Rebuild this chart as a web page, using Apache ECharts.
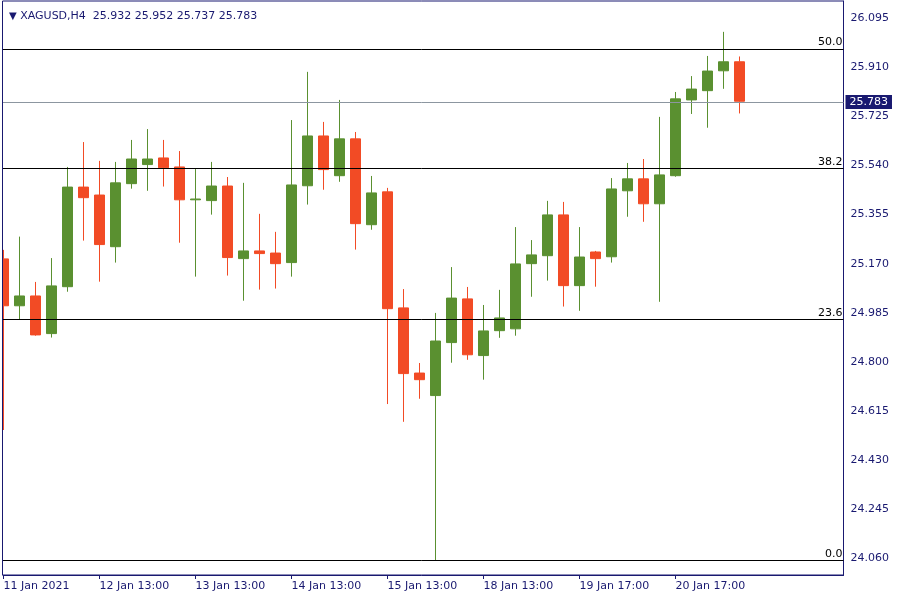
<!DOCTYPE html>
<html><head><meta charset="utf-8">
<script src="https://cdn.jsdelivr.net/npm/echarts@6/dist/echarts.min.js"></script>
<style>html,body{margin:0;padding:0;background:#fff}#c{width:900px;height:600px}</style>
</head><body><div id="c"></div>
<script>
const symbol = 'XAGUSD,H4';
const opens  = [25.188, 25.011, 25.048, 24.906, 25.083, 25.459, 25.429, 25.234, 25.472, 25.544,
                25.569, 25.535, 25.411, 25.408, 25.463, 25.189, 25.218, 25.210, 25.174, 25.464,
                25.652, 25.502, 25.641, 25.317, 25.441, 25.003, 24.757, 24.672, 24.872, 25.037,
                24.823, 24.917, 24.924, 25.170, 25.200, 25.354, 25.087, 25.214, 25.196, 25.445,
                25.490, 25.396, 25.502, 25.788, 25.823, 25.898, 25.932];
const highs  = [25.222, 25.272, 25.101, 25.191, 25.535, 25.629, 25.558, 25.554, 25.637, 25.678,
                25.637, 25.595, 25.527, 25.554, 25.497, 25.475, 25.358, 25.290, 25.712, 25.894,
                25.705, 25.788, 25.667, 25.501, 25.456, 25.074, 24.795, 24.984, 25.157, 25.082,
                25.014, 25.071, 25.308, 25.259, 25.407, 25.403, 25.308, 25.218, 25.493, 25.550,
                25.565, 25.724, 25.818, 25.878, 25.954, 26.045, 25.952];
const lows   = [24.542, 24.961, 24.898, 24.891, 25.064, 25.257, 25.102, 25.174, 25.453, 25.445,
                25.461, 25.249, 25.121, 25.355, 25.125, 25.030, 25.072, 25.076, 25.121, 25.393,
                25.449, 25.479, 25.223, 25.298, 24.640, 24.573, 24.660, 24.051, 24.796, 24.807,
                24.732, 24.890, 24.898, 25.045, 25.106, 25.008, 24.992, 25.083, 25.174, 25.347,
                25.328, 25.026, 25.498, 25.735, 25.683, 25.830, 25.737];
const closes = [25.011, 25.048, 24.901, 25.086, 25.459, 25.419, 25.242, 25.475, 25.565, 25.565,
                25.532, 25.411, 25.414, 25.463, 25.193, 25.218, 25.208, 25.170, 25.467, 25.652,
                25.525, 25.641, 25.321, 25.437, 25.000, 24.755, 24.732, 24.878, 25.040, 24.826,
                24.916, 24.965, 25.169, 25.203, 25.354, 25.087, 25.195, 25.189, 25.452, 25.490,
                25.396, 25.505, 25.792, 25.829, 25.897, 25.932, 25.783];
const xTickIndex  = [0, 6, 12, 18, 24, 30, 36, 42];
const xTickLabels = ['11 Jan 2021', '12 Jan 13:00', '13 Jan 13:00', '14 Jan 13:00',
                     '15 Jan 13:00', '18 Jan 13:00', '19 Jan 17:00', '20 Jan 17:00'];
const yTickLabels = ['24.060', '24.245', '24.430', '24.615', '24.800', '24.985',
                     '25.170', '25.355', '25.540', '25.725', '25.910', '26.095'];
const fibLevels = ['0.0', '23.6', '38.2', '50.0'];
const fibPrices = [24.051, 24.962, 25.527, 25.983];

const NAVY = '#191970', GREEN = '#5a9030', RED = '#f24b25';
const FONT = 'DejaVu Sans';
const n = opens.length;
const rightPad = 6;
const categories = [];
for (let i = 0; i < n + rightPad; i++) categories.push(String(i));
const labelAt = {};
xTickIndex.forEach((k, j) => { labelAt[k] = xTickLabels[j]; });
const candleData = opens.map((o, i) => [o, closes[i], lows[i], highs[i]]);
const last = n - 1;
const header = [opens[last], highs[last], lows[last], closes[last]].map(v => v.toFixed(3)).join(' ');

// layout (pixels)
const GRID_L = -4.5, GRID_R = 56.5, MAIN_TOP = 1, MAIN_BOTTOM_Y = 575;
const LBL_TOP_Y = 18.6, LBL_BOTTOM_Y = 557.7, FRAME_X = 2.5;
const yLo = parseFloat(yTickLabels[0]), yHi = parseFloat(yTickLabels[yTickLabels.length - 1]);
const yStep = parseFloat(yTickLabels[1]) - yLo;
const pxPerUnit = (LBL_BOTTOM_Y - LBL_TOP_Y) / (yHi - yLo);
const yMax = yHi + (LBL_TOP_Y - MAIN_TOP) / pxPerUnit;
const yMin = yLo - (MAIN_BOTTOM_Y - LBL_BOTTOM_Y) / pxPerUnit;

const chart = echarts.init(document.getElementById('c'), null, {renderer: 'canvas'});
chart.setOption({
  animation: false,
  backgroundColor: '#fff',
  title: {
    text: '{t|▼} ' + symbol + '  ' + header,
    left: 4, top: 6, z: 20,
    textStyle: {fontFamily: FONT, fontSize: 11, fontWeight: 'normal', color: NAVY,
      rich: {t: {fontSize: 10, color: NAVY, fontFamily: FONT}}}
  },
  graphic: [{
    type: 'rect', z: 9, silent: true,
    shape: {x: 0, y: 0, width: FRAME_X, height: 600},
    style: {fill: '#fff'}
  }, {
    type: 'line', z: 10, silent: true,
    shape: {x1: FRAME_X, y1: MAIN_TOP, x2: FRAME_X, y2: MAIN_BOTTOM_Y},
    style: {stroke: NAVY, lineWidth: 1}
  }],
  grid: [
    {left: GRID_L, right: GRID_R, top: MAIN_TOP, bottom: 600 - MAIN_BOTTOM_Y, show: true,
     borderColor: NAVY, borderWidth: 1, outerBoundsMode: 'none', containLabel: false},
    {left: GRID_L, right: GRID_R, top: LBL_TOP_Y, bottom: 600 - LBL_BOTTOM_Y,
     outerBoundsMode: 'none', containLabel: false}
  ],
  xAxis: [
    {type: 'category', gridIndex: 0, data: categories, boundaryGap: true,
     axisLine: {show: true, lineStyle: {color: NAVY}},
     axisTick: {show: true, alignWithLabel: true, interval: (i) => (i in labelAt), length: 4,
                lineStyle: {color: NAVY}},
     axisLabel: {interval: (i) => (i in labelAt), formatter: (v, i) => labelAt[i] || '',
                 align: 'left', margin: 6, color: NAVY, fontFamily: FONT, fontSize: 11},
     splitLine: {show: false}},
    {type: 'value', gridIndex: 1, show: false}
  ],
  yAxis: [
    {type: 'value', gridIndex: 0, position: 'right', min: yMin, max: yMax, scale: true,
     axisLine: {show: true, lineStyle: {color: NAVY}}, axisTick: {show: false},
     axisLabel: {show: false}, splitLine: {show: false}},
    {type: 'value', gridIndex: 1, position: 'right', min: yLo, max: yHi, interval: yStep,
     axisLine: {show: false},
     axisTick: {show: true, length: 5, lineStyle: {color: NAVY}},
     axisLabel: {formatter: (v) => v.toFixed(3), margin: 7, color: NAVY, fontFamily: FONT, fontSize: 11},
     splitLine: {show: false}}
  ],
  series: [{
    type: 'candlestick', xAxisIndex: 0, yAxisIndex: 0, data: candleData,
    barWidth: 10, clip: false,
    itemStyle: {color: GREEN, color0: RED, borderColor: GREEN, borderColor0: RED, borderWidth: 1},
    markLine: {
      symbol: 'none', silent: true, z: 5, animation: false,
      data: fibPrices.map((p, j) => ({
        yAxis: p,
        lineStyle: {color: '#000', width: 1, type: 'solid'},
        label: {show: true, position: 'insideEndTop', formatter: fibLevels[j], color: '#000',
                fontFamily: FONT, fontSize: 11, distance: 1}
      })).concat([{
        yAxis: closes[last],
        lineStyle: {color: '#8c96a0', width: 1, type: 'solid'},
        label: {show: true, position: 'end', formatter: closes[last].toFixed(3), color: '#fff',
                backgroundColor: NAVY, padding: [2, 4, 1, 4], fontFamily: FONT, fontSize: 11,
                distance: 2}
      }])
    }
  }]
});
</script></body></html>
